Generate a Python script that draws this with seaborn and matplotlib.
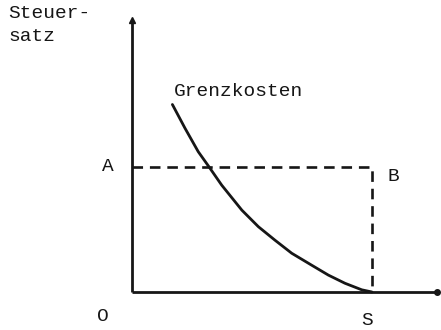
import matplotlib
matplotlib.use("Agg")
import matplotlib.pyplot as plt
import seaborn as sns
import pandas as pd

# Data (economic units: quantity on x, tax rate on y)
curve_x = [1.36, 1.78, 2.22, 2.56, 3.0, 3.67, 4.22, 4.77, 5.33, 5.99, 6.55, 7.10, 7.66, 8.0]
curve_y = [6.0, 5.24, 4.49, 4.03, 3.42, 2.62, 2.09, 1.66, 1.24, 0.86, 0.54, 0.28, 0.07, 0.0]
level_A = 4.0
quantity_S = 8.0
y_axis_top = 8.86
x_axis_end = 10.2
y_label = ["Steuer-", "satz"]
curve_label = "Grenzkosten"

sns.set_style("white")
plt.rcParams['font.family'] = ['Liberation Mono', 'DejaVu Sans']

fig = plt.figure(figsize=(4.41, 3.30), dpi=100)
ax = fig.add_axes([0, 0, 1, 1])
ax.set_xlim(-4.375, 10.296)
ax.set_ylim(-1.216, 9.344)
ax.axis("off")

ink = "#161616"

# axes
ax.plot([0, 0], [0, y_axis_top - 0.2], color=ink, lw=2.0, solid_capstyle="butt")
ax.plot([0, x_axis_end - 0.1], [0, 0], color=ink, lw=2.0, solid_capstyle="butt")
ax.plot([0], [y_axis_top - 0.15], marker="^", color=ink, markersize=5)
ax.plot([x_axis_end - 0.05], [0], marker="o", color=ink, markersize=4)

# marginal cost curve
df = pd.DataFrame({"x": curve_x, "y": curve_y})
sns.lineplot(data=df, x="x", y="y", ax=ax, color=ink, lw=2.0, sort=False,
             estimator=None)
ax.set_xlabel("")
ax.set_ylabel("")

# dashed rectangle
ax.plot([0, quantity_S, quantity_S], [level_A, level_A, 0], color=ink, lw=1.9,
        linestyle=(0, (4, 2.6)))

fs = 14
ax.text(-4.1, 8.9, y_label[0], fontsize=fs, ha="left", va="center", color=ink)
ax.text(-4.1, 8.16, y_label[1], fontsize=fs, ha="left", va="center", color=ink)
ax.text(1.4, 6.4, curve_label, fontsize=fs, ha="left", va="center", color=ink)
ax.text(-0.78, level_A, "A", fontsize=fs, ha="center", va="center", color=ink)
ax.text(8.7, 3.68, "B", fontsize=fs, ha="center", va="center", color=ink)
ax.text(-0.95, -0.77, "O", fontsize=fs, ha="center", va="center", color=ink)
ax.text(7.83, -0.9, "S", fontsize=fs, ha="center", va="center", color=ink)

fig.savefig("out.png", dpi=100)
